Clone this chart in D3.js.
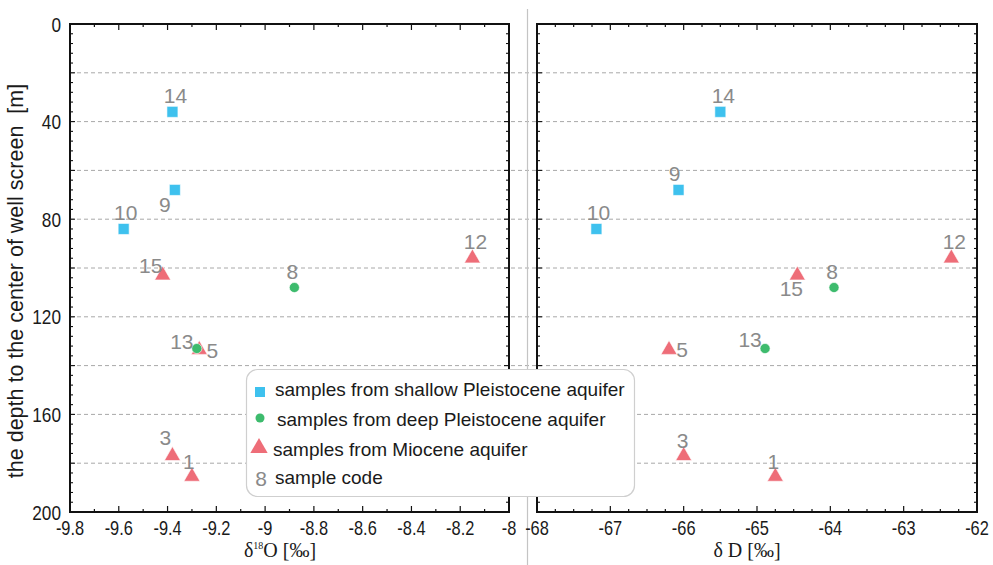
<!DOCTYPE html>
<html>
<head>
<meta charset="utf-8">
<script src="https://cdn.jsdelivr.net/npm/d3@7"></script>
<style>
  body { margin: 0; background: #fff; }
  svg { display: block; font-family: "Liberation Sans", Arial, sans-serif; }
</style>
</head>
<body>
<svg id="chart" width="993" height="565"></svg>
<script>
// --- Data ---
const sampleCodes = ['14', '9', '10', '15', '12', '8', '13', '5', '3', '1'];
const aquifer = ['shallow', 'shallow', 'shallow', 'miocene', 'miocene', 'deep', 'deep', 'miocene', 'miocene', 'miocene'];
const depth = [36, 68, 84, 103, 96, 108, 133, 133.5, 177, 185.5];
const d18O = [-9.38, -9.37, -9.58, -9.42, -8.15, -8.88, -9.28, -9.27, -9.38, -9.30];
const dD = [-65.5, -66.07, -67.19, -64.45, -62.35, -63.95, -64.89, -66.2, -66.0, -64.75];

const depthTicks = [0, 40, 80, 120, 160, 200];
const gridDepths = [20, 40, 60, 80, 100, 120, 140, 160, 180];
const o18Ticks = [-9.8, -9.6, -9.4, -9.2, -9, -8.8, -8.6, -8.4, -8.2, -8];
const dDTicks = [-68, -67, -66, -65, -64, -63, -62];

const legendLabels = [
  'samples from shallow Pleistocene aquifer',
  'samples from deep Pleistocene aquifer',
  'samples from Miocene aquifer',
  'sample code'
];

// label placement relative to the marker (dx, dy of baseline)
const labelOffLeft = [[3, -9], [-10, 22], [2, -9], [-12, -2], [3, -9], [-2, -9], [-15, 0], [13, 8], [-7, -11], [-3, -8]];
const labelOffRight = [[3, -9], [-4, -9], [2, -9], [-6, 21], [3, -9], [-2, -9], [-15, -2], [13, 7], [-1, -8], [-2, -8]];

// --- Styles ---
const colors = { shallow: '#3ec1ee', deep: '#3dbb6d', miocene: '#ee6d78' };
const symbols = {
  shallow: d3.symbol().type(d3.symbolSquare).size(121),
  deep: d3.symbol().type(d3.symbolCircle).size(80),
  miocene: d3.symbol().type(d3.symbolTriangle).size(112)
};
const drawOrder = { miocene: 0, shallow: 1, deep: 2 }; // circles end up on top
const codeColor = '#8a8a8a';
const textColor = '#1a1a1a';

const svg = d3.select('#chart');

const plotTop = 24, plotBottom = 512;
const y = d3.scaleLinear().domain([0, 200]).range([plotTop, plotBottom]);
const xL = d3.scaleLinear().domain([-9.8, -8]).range([70, 509]);
const xR = d3.scaleLinear().domain([-68, -62]).range([537, 977]);

// --- Grid lines (continuous across both panels) ---
svg.append('g').selectAll('line')
  .data(gridDepths).enter().append('line')
  .attr('x1', 70).attr('x2', 977)
  .attr('y1', d => y(d)).attr('y2', d => y(d))
  .attr('stroke', '#a8a8a8').attr('stroke-width', 1)
  .attr('stroke-dasharray', '4,3');

// separator between the panels
svg.append('line')
  .attr('x1', 527.5).attr('x2', 527.5).attr('y1', 9).attr('y2', 565)
  .attr('stroke', '#c4c4c4').attr('stroke-width', 1.2);

function drawFrame(x, majorStep, minorStep) {
  const g = svg.append('g');
  const [x0, x1] = x.range();
  const [d0, d1] = x.domain();
  const majors = d3.range(d0, d1 + 1e-9, majorStep);
  const minors = d3.range(d0, d1 + 1e-9, minorStep);
  // ticks on top and bottom
  minors.forEach(v => {
    const isMajor = majors.some(m => Math.abs(m - v) < 1e-6);
    const len = isMajor ? 6 : 3;
    g.append('line').attr('x1', x(v)).attr('x2', x(v)).attr('y1', plotTop).attr('y2', plotTop + len)
      .attr('stroke', '#111').attr('stroke-width', 1.2);
    g.append('line').attr('x1', x(v)).attr('x2', x(v)).attr('y1', plotBottom).attr('y2', plotBottom - len)
      .attr('stroke', '#111').attr('stroke-width', 1.2);
  });
  // ticks on left and right: minor every 4 m, longer at the 20 m grid
  d3.range(0, 201, 4).forEach(v => {
    const len = v % 20 === 0 ? 5 : 3;
    g.append('line').attr('x1', x0).attr('x2', x0 + len).attr('y1', y(v)).attr('y2', y(v))
      .attr('stroke', '#111').attr('stroke-width', 1.1);
    g.append('line').attr('x1', x1).attr('x2', x1 - len).attr('y1', y(v)).attr('y2', y(v))
      .attr('stroke', '#111').attr('stroke-width', 1.1);
  });
  g.append('rect')
    .attr('x', x0).attr('y', plotTop).attr('width', x1 - x0).attr('height', plotBottom - plotTop)
    .attr('fill', 'none').attr('stroke', '#111').attr('stroke-width', 2);
  return g;
}

drawFrame(xL, 0.2, 0.1);
drawFrame(xR, 1, 0.25);

// --- Axis labels (narrow looking numerals) ---
svg.append('g').selectAll('text')
  .data(depthTicks).enter().append('text')
  .attr('transform', d => `translate(61,${y(d) + 7.5}) scale(0.82,1)`)
  .attr('text-anchor', 'end').attr('font-size', 21).attr('fill', textColor)
  .text(d => d);

function xTickLabels(x, ticks) {
  svg.append('g').selectAll('text')
    .data(ticks).enter().append('text')
    .attr('transform', d => `translate(${x(d)},535) scale(0.82,1)`)
    .attr('text-anchor', 'middle').attr('font-size', 20).attr('fill', textColor)
    .text(d => d);
}
xTickLabels(xL, o18Ticks);
xTickLabels(xR, dDTicks);

svg.append('text')
  .attr('transform', 'translate(23,281) rotate(-90)')
  .attr('text-anchor', 'middle').attr('font-size', 21.5).attr('fill', textColor)
  .text('the depth to the center of well screen\u00a0\u00a0[m]');

const tO = svg.append('text')
  .attr('x', 280).attr('y', 557).attr('text-anchor', 'middle')
  .attr('font-family', '"Liberation Serif", "Times New Roman", serif')
  .attr('font-size', 20).attr('fill', textColor);
tO.append('tspan').text('δ');
tO.append('tspan').attr('font-size', 10).attr('dy', -8).text('18');
tO.append('tspan').attr('dy', 8).text('O [‰]');

svg.append('text')
  .attr('x', 747).attr('y', 557).attr('text-anchor', 'middle')
  .attr('font-family', '"Liberation Serif", "Times New Roman", serif')
  .attr('font-size', 20).attr('fill', textColor)
  .text('δ D [‰]');

// --- Points ---
function drawPoints(x, values, offsets) {
  const g = svg.append('g');
  const idx = d3.range(sampleCodes.length)
    .sort((a, b) => drawOrder[aquifer[a]] - drawOrder[aquifer[b]]);
  g.selectAll('path')
    .data(idx).enter().append('path')
    .attr('transform', i => `translate(${x(values[i])},${y(depth[i])})`)
    .attr('d', i => symbols[aquifer[i]]())
    .attr('fill', i => colors[aquifer[i]])
    .attr('stroke', '#fff').attr('stroke-width', 0.6);
  g.selectAll('text')
    .data(idx).enter().append('text')
    .attr('x', i => x(values[i]) + offsets[i][0])
    .attr('y', i => y(depth[i]) + offsets[i][1])
    .attr('text-anchor', 'middle').attr('font-size', 21).attr('fill', codeColor)
    .text(i => sampleCodes[i]);
}

drawPoints(xL, d18O, labelOffLeft);
drawPoints(xR, dD, labelOffRight);

// --- Legend ---
const leg = svg.append('g');
leg.append('rect')
  .attr('x', 246.5).attr('y', 369.5).attr('width', 388).attr('height', 127)
  .attr('rx', 11).attr('ry', 11)
  .attr('fill', '#fff').attr('stroke', '#cfcfcf').attr('stroke-width', 1.2);

const legendKeys = ['shallow', 'deep', 'miocene'];
const legendY = [392, 418, 448];
const legendTextY = [396, 426, 456, 484];
const legendTextX = [275, 277, 273, 275];

legendKeys.forEach((k, i) => {
  leg.append('path')
    .attr('transform', `translate(${k === 'miocene' ? 259 : 260},${legendY[i]})`)
    .attr('d', (k === 'deep' ? d3.symbol().type(d3.symbolCircle).size(64)
      : k === 'shallow' ? d3.symbol().type(d3.symbolSquare).size(100)
      : d3.symbol().type(d3.symbolTriangle).size(130))())
    .attr('fill', colors[k]);
});
leg.append('text')
  .attr('x', 261).attr('y', 486).attr('text-anchor', 'middle')
  .attr('font-size', 21).attr('fill', codeColor).text('8');

leg.selectAll('text.lbl')
  .data(legendLabels).enter().append('text')
  .attr('class', 'lbl')
  .attr('x', (d, i) => legendTextX[i]).attr('y', (d, i) => legendTextY[i])
  .attr('font-size', 19).attr('fill', textColor)
  .text(d => d);
</script>
</body>
</html>
